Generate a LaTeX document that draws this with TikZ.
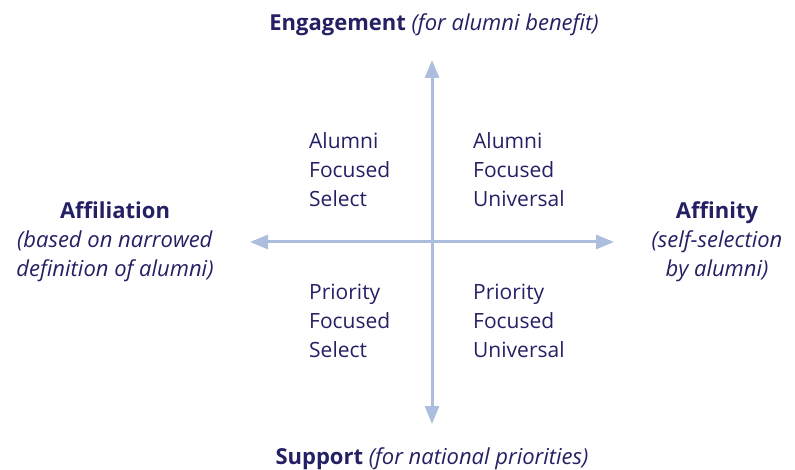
\documentclass[tikz,border=0pt]{standalone}
\usepackage{fontspec}
\setmainfont{Open Sans}
\usepackage{xcolor}
\usetikzlibrary{arrows.meta, positioning}
\definecolor{axiscolor}{RGB}{172, 189, 221}
\definecolor{textcolor}{RGB}{36, 32, 100}

\begin{document}
\begin{tikzpicture}[
    x=1pt, y=-1pt,
    axis/.style={line width=3pt, draw=axiscolor, -{Triangle[length=18pt, width=14pt]}},
    title/.style={text=textcolor, font=\fontsize{22}{29}\selectfont, align=center, inner sep=0pt},
    quad/.style={text=textcolor, font=\fontsize{21}{29}\selectfont, align=left, anchor=west, inner sep=0pt}
]
    \useasboundingbox (0,0) rectangle (795,470);

    % Axes
    \coordinate (origin) at (432, 242);
    \coordinate (top) at (432, 60);
    \coordinate (bottom) at (432, 424);
    \coordinate (left) at (250, 242);
    \coordinate (right) at (614, 242);
    \draw[axis] (origin) -- (top);
    \draw[axis] (origin) -- (bottom);
    \draw[axis] (origin) -- (left);
    \draw[axis] (origin) -- (right);

    % Axis titles
    \node[title] (engage) at (434, 25) {\textbf{Engagement} \textit{(for alumni benefit)}};
    \node[title] (support) at (432, 459) {\textbf{Support} \textit{(for national priorities)}};
    \node[title] (affil) at (115, 242) {
        \textbf{Affiliation}\\
        \textit{(based on narrowed}\\
        \textit{definition of alumni)}
    };
    \node[title] (affin) at (717, 242) {
        \textbf{Affinity}\\
        \textit{(self-selection}\\
        \textit{by alumni)}
    };

    % Quadrants
    \node[quad] (afs) at (309, 170) {Alumni\\Focused\\Select};
    \node[quad] (afu) at (473, 170) {Alumni\\Focused\\Universal};
    \node[quad] (pfs) at (309, 321) {Priority\\Focused\\Select};
    \node[quad] (pfu) at (473, 321) {Priority\\Focused\\Universal};

\end{tikzpicture}
\end{document}
